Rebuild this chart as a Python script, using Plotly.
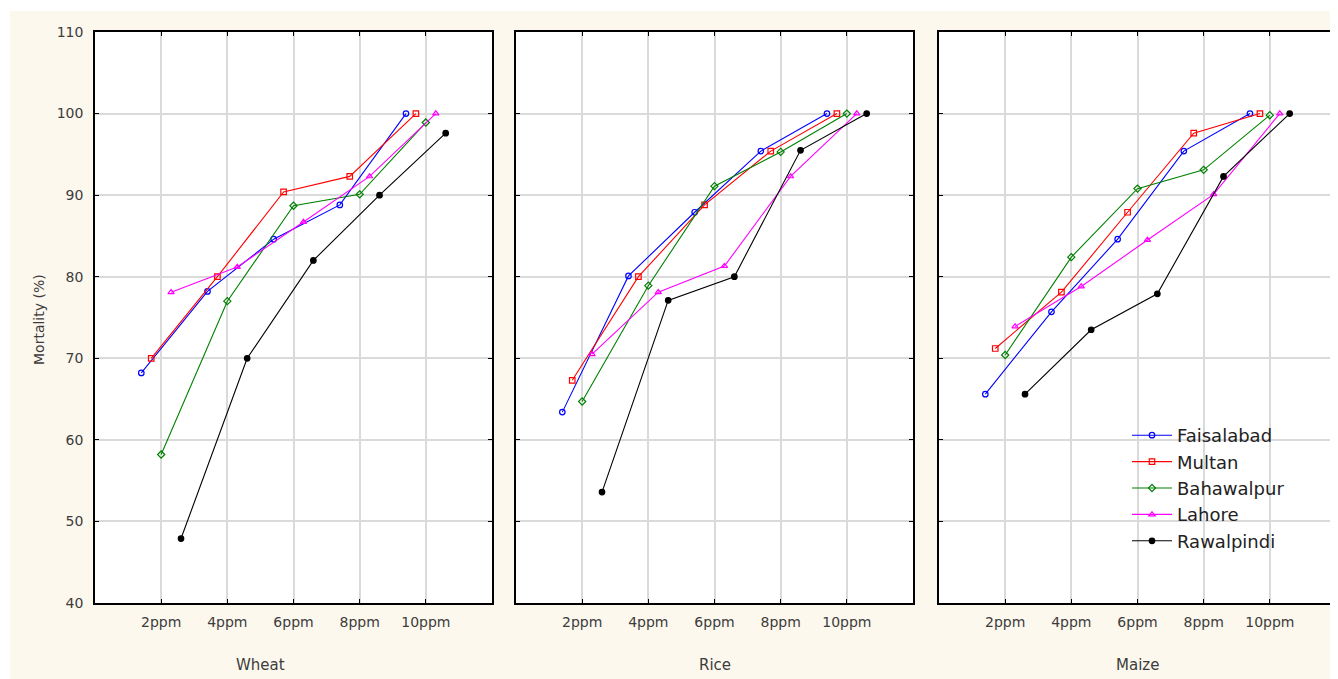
import plotly.graph_objects as go

# page body margin of the HTML page (px); figure is sized to fill the rest of the window
OX, OY = 8, 8
W, H = 1338 - OX, 679 - OY

doses = ["2ppm", "4ppm", "6ppm", "8ppm", "10ppm"]
crops = ["Wheat", "Rice", "Maize"]
regions = ["Faisalabad", "Multan", "Bahawalpur", "Lahore", "Rawalpindi"]

wheat_faisalabad = [68.2, 78.2, 84.6, 88.8, 100.0]
wheat_multan = [70.0, 80.0, 90.4, 92.3, 100.0]
wheat_bahawalpur = [58.2, 77.0, 88.7, 90.1, 98.9]
wheat_lahore = [78.1, 81.2, 86.7, 92.3, 100.0]
wheat_rawalpindi = [47.9, 70.0, 82.0, 90.0, 97.6]

rice_faisalabad = [63.4, 80.1, 87.9, 95.4, 100.0]
rice_multan = [67.3, 80.0, 88.8, 95.4, 100.0]
rice_bahawalpur = [64.7, 78.9, 91.1, 95.3, 100.0]
rice_lahore = [70.5, 78.1, 81.3, 92.3, 100.0]
rice_rawalpindi = [53.6, 77.1, 80.0, 95.5, 100.0]

maize_faisalabad = [65.6, 75.7, 84.6, 95.4, 100.0]
maize_multan = [71.2, 78.1, 87.9, 97.6, 100.0]
maize_bahawalpur = [70.4, 82.4, 90.8, 93.1, 99.8]
maize_lahore = [73.9, 78.8, 84.5, 90.1, 100.0]
maize_rawalpindi = [65.6, 73.5, 77.9, 92.3, 100.0]

data = {
    "Wheat": [wheat_faisalabad, wheat_multan, wheat_bahawalpur, wheat_lahore, wheat_rawalpindi],
    "Rice": [rice_faisalabad, rice_multan, rice_bahawalpur, rice_lahore, rice_rawalpindi],
    "Maize": [maize_faisalabad, maize_multan, maize_bahawalpur, maize_lahore, maize_rawalpindi],
}

# styles
colors = ["#0000FF", "#FF0000", "#008000", "#FF00FF", "#000000"]
symbols = ["circle-open", "square-open", "diamond-open", "triangle-up-open", "circle"]
offsets = [-0.3, -0.15, 0.0, 0.15, 0.3]
cream = "#FCF8EE"
FONT = "DejaVu Sans"
TXT = "#3c3c3c"


def px_x(v):
    return (v - OX) / W


def px_y(v):
    return 1 - (v - OY) / H


panel_px = [(95, 492), (516, 913), (939, 1336)]
y_px = (32, 603)
title_px = [260, 715, 1137]

fig = go.Figure()

for p, crop in enumerate(crops):
    xa = "x" if p == 0 else f"x{p+1}"
    ya = "y" if p == 0 else f"y{p+1}"
    for i, reg in enumerate(regions):
        xs = [k + 1 + offsets[i] for k in range(len(doses))]
        fig.add_trace(go.Scatter(
            x=xs, y=data[crop][i], mode="lines+markers", name=reg,
            xaxis=xa, yaxis=ya, showlegend=(p == 2), legendgroup=reg,
            line=dict(color=colors[i], width=1.1),
            marker=dict(symbol=symbols[i], size=5.5,
                        color=colors[i], line=dict(width=1.2, color=colors[i])),
        ))

layout = dict(
    template="none",
    width=W, height=H, autosize=False,
    margin=dict(l=0, r=0, t=0, b=0, pad=0, autoexpand=False),
    paper_bgcolor=cream, plot_bgcolor="white",
    font=dict(family=FONT, size=14, color=TXT),
    showlegend=True,
    legend=dict(x=px_x(1127), y=px_y(417), xanchor="left", yanchor="top",
                bgcolor="rgba(0,0,0,0)", borderwidth=0,
                font=dict(family=FONT, size=18, color="#222222"),
                tracegroupgap=0, itemwidth=40),
)

ydom = [px_y(y_px[1]), px_y(y_px[0])]
for p in range(3):
    sfx = "" if p == 0 else str(p + 1)
    layout["xaxis" + sfx] = dict(
        domain=[px_x(panel_px[p][0]), px_x(panel_px[p][1])], range=[0, 6],
        tickvals=[1, 2, 3, 4, 5], ticktext=doses, automargin=False,
        showgrid=True, gridcolor="#DADADA", gridwidth=1.6, zeroline=False,
        showline=True, linecolor="black", linewidth=1.6, mirror="ticks",
        ticks="inside", ticklen=4, tickcolor="black", ticklabelstandoff=5,
        anchor="y" + sfx, tickfont=dict(family=FONT, size=14, color=TXT),
    )
    layout["yaxis" + sfx] = dict(
        domain=ydom, range=[40, 110], dtick=10, automargin=False,
        showgrid=True, gridcolor="#DADADA", gridwidth=1.6, zeroline=False,
        showline=True, linecolor="black", linewidth=1.6, mirror="ticks",
        ticks="inside", ticklen=4, tickcolor="black", ticklabelstandoff=7,
        showticklabels=(p == 0), anchor="x" + sfx,
        tickfont=dict(family=FONT, size=14, color=TXT),
    )

annotations = [dict(text="Mortality (%)", x=px_x(39), y=px_y(320), xref="paper", yref="paper",
                    showarrow=False, textangle=-90, font=dict(family=FONT, size=14, color=TXT),
                    xanchor="center", yanchor="middle")]
for p, crop in enumerate(crops):
    annotations.append(dict(text=crop, x=px_x(title_px[p]), y=px_y(665), xref="paper", yref="paper",
                            showarrow=False, font=dict(family=FONT, size=15, color=TXT),
                            xanchor="center", yanchor="middle"))
layout["annotations"] = annotations
layout["shapes"] = [
    dict(type="rect", xref="paper", yref="paper", x0=0, x1=1, y0=px_y(11), y1=1,
         fillcolor="white", line=dict(width=0), layer="below"),
    dict(type="rect", xref="paper", yref="paper", x0=0, x1=px_x(10), y0=0, y1=1,
         fillcolor="white", line=dict(width=0), layer="below"),
]

fig.update_layout(**layout)
fig.write_html("out.html")
